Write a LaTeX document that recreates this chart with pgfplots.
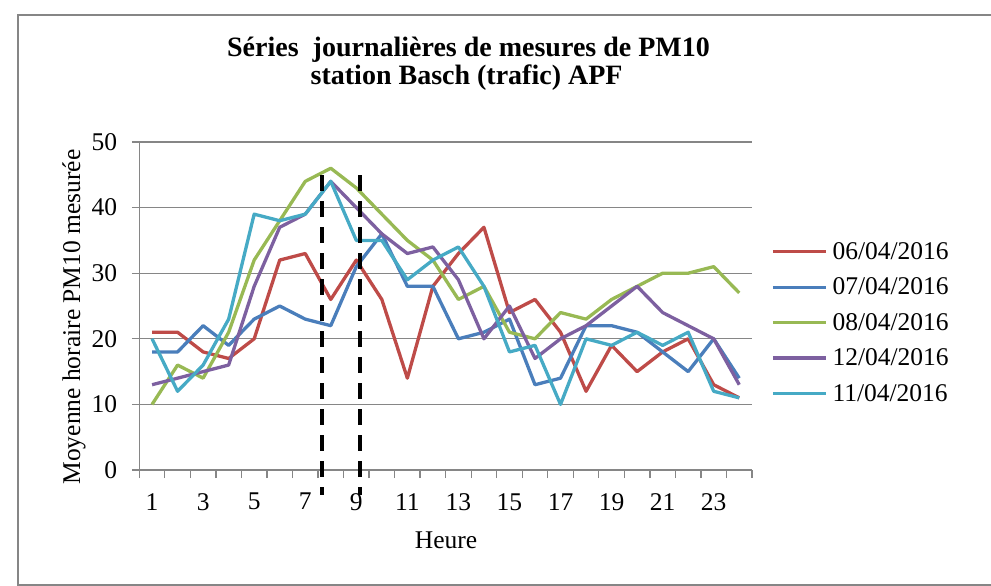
\documentclass[border=0pt]{standalone}
\usepackage{fontspec}
\setmainfont{Liberation Serif}
\usepackage{pgfplots}
\pgfplotsset{compat=1.18}
\definecolor{cred}{HTML}{BE4B48}
\definecolor{cblue}{HTML}{4A7EBB}
\definecolor{cgreen}{HTML}{98B954}
\definecolor{cpurple}{HTML}{7D60A0}
\definecolor{ccyan}{HTML}{46AAC5}
\definecolor{axgray}{HTML}{868686}
\newcommand{\lbl}{\fontsize{25.5bp}{30bp}\selectfont}
\begin{document}
\begin{tikzpicture}
\useasboundingbox (0bp,0bp) rectangle (991bp,-586bp);
\draw[color=axgray, line width=1.3bp] (995bp,-15bp) -- (18bp,-15bp) -- (18bp,-585bp) -- (995bp,-585bp);
\node[anchor=base, inner sep=0pt, font=\fontsize{28bp}{32bp}\selectfont\bfseries] at (468.5bp,-56.7bp) {Séries\ \ journalières de mesures de PM10};
\node[anchor=base, inner sep=0pt, font=\fontsize{28bp}{32bp}\selectfont\bfseries] at (466.6bp,-84.5bp) {station Basch (trafic) APF};
\node[rotate=90, anchor=base, inner sep=0pt, font=\lbl] at (80bp,-317bp) {Moyenne horaire PM10 mesurée};
\node[anchor=base, inner sep=0pt, font=\lbl] at (446bp,-548.3bp) {Heure};
\begin{axis}[
  at={(139.3bp,-470bp)}, anchor=south west,
  width=612.7bp, height=328bp, scale only axis,
  xmin=0.5, xmax=24.5, ymin=0, ymax=50,
  clip=false,
  axis x line*=bottom, axis y line*=left,
  axis line style={draw=axgray, line width=1.3bp},
  xtick={1,3,...,23}, minor xtick={0.5,1.5,...,24.5},
  ytick={0,10,...,50},
  tick align=outside,
  major tick length=7.5bp, minor tick length=8bp,
  tick style={draw=axgray, line width=1.3bp},
  major x tick style={draw=none},
  ymajorgrids,
  major grid style={draw=axgray, line width=1.3bp},
  /pgf/number format/assume math mode=true,
  ticklabel style={font=\lbl, inner sep=0pt},
  xticklabel style={anchor=north, yshift=-15.5bp},
  yticklabel style={anchor=east, xshift=-14.5bp},
  legend style={at={(1.031,0.6943)}, anchor=north west, draw=none, fill=none,
    inner sep=0pt, column sep=5bp, row sep=17bp, font=\lbl,
    nodes={inner sep=0pt, anchor=west}},
  legend cell align=left,
  legend image code/.code={\draw[#1, line width=3.3bp] (0bp,0bp) -- (53bp,0bp);},
  every axis plot/.append style={line width=3.3bp, line join=round, no markers},
]
\addplot[cred] coordinates {(1,21)(2,21)(3,18)(4,17)(5,20)(6,32)(7,33)(8,26)(9,32)(10,26)(11,14)(12,28)(13,33)(14,37)(15,24)(16,26)(17,21)(18,12)(19,19)(20,15)(21,18)(22,20)(23,13)(24,11)};
\addlegendentry{06/04/2016}
\addplot[cblue] coordinates {(1,18)(2,18)(3,22)(4,19)(5,23)(6,25)(7,23)(8,22)(9,31)(10,36)(11,28)(12,28)(13,20)(14,21)(15,23)(16,13)(17,14)(18,22)(19,22)(20,21)(21,18)(22,15)(23,20)(24,14)};
\addlegendentry{07/04/2016}
\addplot[cgreen] coordinates {(1,10)(2,16)(3,14)(4,21)(5,32)(6,38)(7,44)(8,46)(9,43)(10,39)(11,35)(12,32)(13,26)(14,28)(15,21)(16,20)(17,24)(18,23)(19,26)(20,28)(21,30)(22,30)(23,31)(24,27)};
\addlegendentry{08/04/2016}
\addplot[cpurple] coordinates {(1,13)(2,14)(3,15)(4,16)(5,28)(6,37)(7,39)(8,44)(9,40)(10,36)(11,33)(12,34)(13,29)(14,20)(15,25)(16,17)(17,20)(18,22)(19,25)(20,28)(21,24)(22,22)(23,20)(24,13)};
\addlegendentry{12/04/2016}
\addplot[ccyan] coordinates {(1,20)(2,12)(3,16)(4,23)(5,39)(6,38)(7,39)(8,44)(9,35)(10,35)(11,29)(12,32)(13,34)(14,28)(15,18)(16,19)(17,10)(18,20)(19,19)(20,21)(21,19)(22,21)(23,12)(24,11)};
\addlegendentry{11/04/2016}
\addplot[black, line width=4bp, dash pattern=on 16bp off 10bp, line cap=butt, forget plot] coordinates {(7.656,44.97) (7.656,-3.8)};
\addplot[black, line width=4bp, dash pattern=on 16bp off 10bp, line cap=butt, forget plot] coordinates {(9.145,44.97) (9.145,-3.8)};
\end{axis}
\end{tikzpicture}
\end{document}
